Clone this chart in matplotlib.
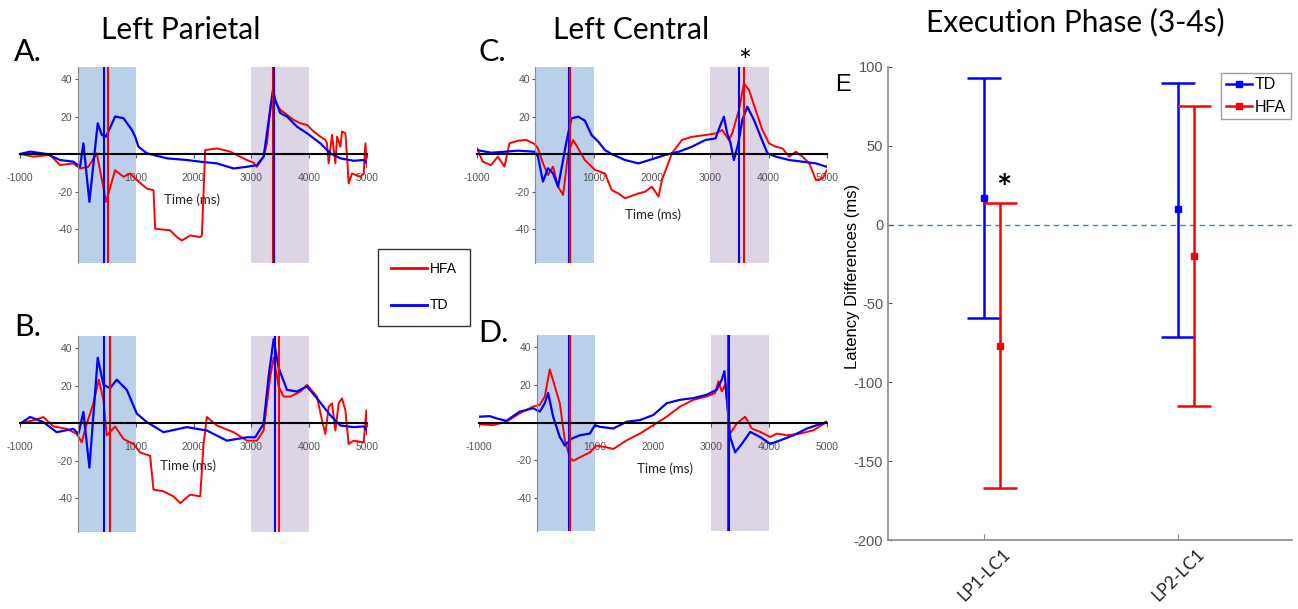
import matplotlib
matplotlib.use('Agg')
import matplotlib.pyplot as plt
from matplotlib.lines import Line2D
from matplotlib.transforms import ScaledTranslation

plt.rcParams['font.family'] = ['Lato', 'DejaVu Sans']
plt.rcParams['axes.unicode_minus'] = False
NARROW = ['Liberation Sans', 'DejaVu Sans']

# ---- ERP traces (time in ms, amplitude) ----
# A. Left Parietal (row 1)
a_hfa_t = [-1000, -769, -481, -308, -77, 39, 183, 327, 489, 644, 789, 904, 1020, 1193, 1308, 1337,
           1597, 1712, 1798, 1943, 2116, 2145, 2202, 2404, 2635, 2808, 2924, 3039, 3097, 3212, 3270,
           3339, 3385, 3501, 3616, 3731, 3847, 3962, 4078, 4193, 4280, 4308, 4337, 4395, 4453, 4482,
           4539, 4568, 4626, 4655, 4683, 4741, 4885, 4943, 4972, 5000]
a_hfa_v = [0, -1.4, -0.5, -5.9, -5.0, -7.7, -6.8, 0.4, -25.5, -8.6, -12.1, -10.4, -13.9, -18.4, -19.3, -39.8,
           -40.7, -44.3, -46.1, -43.4, -44.3, -43.4, 2.1, 3.0, 1.3, -1.4, -3.2, -4.6, -6.8, -1.4, 5.7,
           27.1, 28.9, 23.6, 20.9, 18.2, 16.4, 15.5, 12.0, 9.3, 7.5, 5.7, -5.0, 10.2, -5.0, 9.3,
           3.9, 12.0, 11.1, -1.4, -15.7, -10.4, -12.1, -10.4, 5.7, -6.8]
a_td_t = [-1000, -827, -538, -308, -77, 39, 96, 200, 344, 414, 489, 644, 789, 933, 991, 1048, 1193,
          1539, 1885, 2116, 2404, 2693, 2924, 3097, 3212, 3270, 3374, 3414, 3501, 3616, 3789, 3962,
          4193, 4366, 4539, 4770, 4943, 5000]
a_td_v = [0, 1.3, 0, -3.2, -4.1, -6.8, 5.7, -25.5, 16.4, 10.2, 9.3, 20.0, 19.1, 12.9, 9.3, 3.9, 0.4,
          -2.3, -3.2, -4.1, -5.0, -7.7, -6.8, -5.9, -1.4, 11.1, 34.3, 28.9, 21.8, 20.0, 14.6, 11.1,
          5.7, 0.4, -2.3, -3.6, -3.2, -5.0]

# B. Left Parietal (row 2)
b_hfa_t = [-1000, -769, -596, -423, -192, -19, 67, 154, 269, 362, 443, 500, 644, 789, 962, 1077, 1250,
           1308, 1481, 1654, 1770, 1943, 2116, 2174, 2231, 2404, 2693, 2924, 3097, 3212, 3328, 3385,
           3472, 3558, 3674, 3847, 3962, 4135, 4222, 4280, 4337, 4395, 4453, 4510, 4568, 4626, 4683,
           4770, 4943, 4989, 5000]
b_hfa_v = [0, 1.4, 3.2, -1.8, -3.1, -5.8, -10.3, -0.4, 10.5, 23.1, 12.3, -6.7, -1.8, -8.5, -11.2, -15.7, -17.5,
           -35.5, -36.4, -39.1, -42.7, -38.2, -39.1, -11.2, 3.2, -1.3, -4.9, -9.4, -9.4, -4.0, 24.9, 34.8,
           19.5, 14.1, 14.1, 16.8, 20.4, 14.1, 1.4, -5.8, 8.6, 10.5, -4.0, 10.5, 13.2, 6.8, -11.2,
           -9.4, -10.3, 6.8, -5.8]
b_td_t = [-1000, -827, -596, -365, -77, 10, 96, 200, 344, 443, 558, 673, 846, 1020, 1193, 1481, 1885,
          2231, 2577, 2924, 3068, 3212, 3299, 3385, 3472, 3616, 3789, 3962, 4135, 4366, 4539, 4770,
          4943, 5000]
b_td_v = [-0.4, 3.2, 0.5, -4.9, -3.1, -5.8, 5.9, -23.8, 34.8, 20.4, 18.6, 23.1, 17.7, 5.0, 0.5, -4.9, -2.2,
          -4.0, -9.4, -7.6, -7.6, -0.4, 24.9, 44.7, 29.4, 17.7, 16.8, 19.5, 13.2, 4.1, -1.3, -2.2,
          -1.8, -4.0]

# C. Left Central (row 1)
c_hfa_t = [-1000, -902, -759, -644, -529, -443, -299, -156, -12, 45, 131, 217, 303, 390, 476, 562, 648,
           734, 849, 1021, 1193, 1308, 1423, 1538, 1768, 1882, 1997, 2112, 2170, 2342, 2514, 2686,
           2916, 3088, 3203, 3318, 3375, 3490, 3576, 3663, 3777, 3892, 4007, 4122, 4237, 4352, 4466,
           4581, 4696, 4811, 4926, 5000]
c_hfa_v = [3.0, -4.1, -5.9, -1.4, -6.7, 5.7, 7.1, 7.5, 5.3, 3.0, -5.0, -11.2, -6.7, -17.4, -21.8, 0.4, 7.5,
           3.0, -3.2, -8.5, -10.3, -19.2, -21.0, -23.6, -21.0, -20.1, -17.4, -22.7, -13.9, 0.4, 7.5, 9.2,
           10.1, 11.0, 12.8, 7.5, 11.0, 23.4, 37.7, 34.1, 23.4, 12.8, 5.7, 3.9, 3.0, -1.4, 1.2,
           -1.4, -5.0, -13.9, -13.0, -8.5]
c_td_t = [-1000, -759, -529, -299, -12, 45, 131, 217, 303, 390, 476, 533, 619, 734, 849, 964, 1079,
          1193, 1308, 1538, 1768, 1997, 2227, 2457, 2686, 2916, 3088, 3174, 3232, 3289, 3347, 3404,
          3479, 3548, 3634, 3749, 3863, 3978, 4122, 4352, 4581, 4811, 4983]
c_td_v = [2.1, 0.7, 1.2, 1.8, 1.2, -1.4, -14.7, -7.6, -10.3, -17.4, -3.2, 6.6, 19.0, 19.9, 17.8, 10.1, 6.6,
          2.1, 0, -3.2, -5.0, -2.8, -0.5, 1.2, 3.9, 7.5, 8.3, 15.5, 19.9, 11.0, 5.7, -3.2,
          5.7, 18.1, 25.2, 18.1, 9.2, 0.4, -1.4, -3.2, -4.1, -5.0, -6.7]

# D. Left Central (row 2)
d_hfa_t = [-1000, -758, -528, -298, -67, 48, 134, 221, 307, 393, 480, 566, 624, 739, 912, 1027, 1200,
           1315, 1545, 1775, 2006, 2236, 2466, 2697, 2927, 3071, 3128, 3186, 3244, 3272, 3330, 3445,
           3589, 3704, 3848, 4021, 4136, 4309, 4539, 4769, 5000]
d_hfa_v = [-0.9, -1.4, 0.4, 4.9, 8.5, 9.4, 13.9, 28.3, 19.3, 10.3, -9.5, -18.6, -20.4, -18.6, -15.9, -12.3, -13.2,
           -14.1, -9.5, -5.9, -1.4, 3.1, 8.5, 12.1, 13.9, 15.7, 22.0, 16.6, 20.2, 12.1, -5.9, -0.5,
           3.1, -3.2, -5.0, -7.7, -5.9, -6.8, -5.9, -4.1, 0.4]
d_td_t = [-1000, -816, -701, -528, -298, -67, 48, 134, 192, 278, 393, 480, 595, 739, 912, 998, 1084,
          1315, 1545, 1775, 2006, 2236, 2466, 2697, 2927, 3100, 3186, 3232, 3272, 3330, 3417, 3532,
          3676, 3848, 4021, 4194, 4424, 4654, 5000]
d_td_v = [3.1, 3.4, 2.2, 0.9, 5.8, 7.6, 5.8, 10.3, 15.7, 3.1, -7.7, -12.3, -8.6, -6.8, -5.9, -1.4, -2.3,
          -3.2, 0.4, 1.3, 4.0, 10.3, 12.1, 13.0, 14.8, 17.5, 22.9, 27.4, 13.0, -7.7, -15.9, -11.4,
          -5.0, -7.7, -11.4, -9.5, -6.8, -3.2, 0.4]

# onset latency markers (ms): [TD early, HFA early, TD late, HFA late]
a_onsets = [458, 527, 3387, 3370]
b_onsets = [458, 556, 3410, 3484]
c_onsets = [573, 595, 3497, 3583]
d_onsets = [550, 565, 3315, 3293]

early_win = (0, 1000)
late_win = (3000, 4000)
x_ticks = [-1000, 1000, 2000, 3000, 4000, 5000]
y_ticks = [-40, -20, 20, 40]

# ---- E. latency differences ----
pairs = ['LP1-LC1', 'LP2-LC1']
td_mean = [17, 10]
td_lo = [-59, -71]
td_hi = [93, 90]
hfa_mean = [-77, -20]
hfa_lo = [-167, -115]
hfa_hi = [14, 75]

W, H = 1298, 609
fig = plt.figure(figsize=(W / 100, H / 100), dpi=100)

BLUE = '#0000ff'
RED = '#ff0000'
SHADE1 = '#b9cfea'
SHADE2 = '#ddd5e6'


def px_axes(left, right, top, bottom):
    return fig.add_axes([left / W, 1 - bottom / H, (right - left) / W, (bottom - top) / H])


def erp_panel(ax, hfa_t, hfa_v, td_t, td_v, onsets, tlabel_xy):
    ax.set_xlim(-1000, 5000)
    ax.set_ylim(-58, 46.5)
    ax.axvspan(*early_win, color=SHADE1, lw=0, zorder=0)
    ax.axvspan(*late_win, color=SHADE2, lw=0, zorder=0)
    ax.plot(hfa_t, hfa_v, color=RED, lw=1.4, zorder=2)
    ax.plot(td_t, td_v, color=BLUE, lw=1.6, zorder=2)
    ax.axvline(onsets[0], color=BLUE, lw=1.5, zorder=3)
    ax.axvline(onsets[1], color=RED, lw=1.5, zorder=3)
    ax.axvline(onsets[3], color=RED, lw=1.5, zorder=3)
    ax.axvline(onsets[2], color=BLUE, lw=1.5, zorder=3)
    for s in ['top', 'right']:
        ax.spines[s].set_visible(False)
    ax.spines['left'].set_position(('data', 0))
    ax.spines['left'].set_color('#8a8a8a')
    ax.spines['bottom'].set_position(('data', 0))
    ax.spines['bottom'].set_color('black')
    ax.spines['bottom'].set_linewidth(1.5)
    ax.spines['bottom'].set_zorder(4)
    ax.patch.set_visible(False)
    ax.set_xticks(x_ticks)
    ax.set_yticks(y_ticks)
    ax.tick_params(axis='x', direction='out', length=3, pad=11, colors='#555555', labelsize=7.5)
    ax.tick_params(axis='y', direction='out', length=2, pad=2, colors='#555555', labelsize=7.5)
    for lab in ax.get_xticklabels() + ax.get_yticklabels():
        lab.set_family(NARROW)
    ax.text(tlabel_xy[0], tlabel_xy[1], 'Time (ms)', ha='center', va='center', fontsize=9.5, color='#222222')


ax_a = px_axes(20, 367, 66.8, 262.8)
erp_panel(ax_a, a_hfa_t, a_hfa_v, a_td_t, a_td_v, a_onsets, (1974, -24.5))
ax_b = px_axes(20, 367, 335.8, 531.8)
erp_panel(ax_b, b_hfa_t, b_hfa_v, b_td_t, b_td_v, b_onsets, (1905, -23))
ax_c = px_axes(477, 827, 66.8, 262.8)
erp_panel(ax_c, c_hfa_t, c_hfa_v, c_td_t, c_td_v, c_onsets, (2019, -32.5))
ax_d = px_axes(479, 827, 335.3, 531.3)
erp_panel(ax_d, d_hfa_t, d_hfa_v, d_td_t, d_td_v, d_onsets, (2207, -24.8))

fig.text(181 / W, 1 - 30 / H, 'Left Parietal', ha='center', va='center', fontsize=21.5)
fig.text(631 / W, 1 - 30 / H, 'Left Central', ha='center', va='center', fontsize=21.5)
fig.text(14 / W, 1 - 52 / H, 'A.', ha='left', va='center', fontsize=22)
fig.text(14 / W, 1 - 327 / H, 'B.', ha='left', va='center', fontsize=22)
fig.text(478 / W, 1 - 52 / H, 'C.', ha='left', va='center', fontsize=22)
fig.text(478 / W, 1 - 333 / H, 'D.', ha='left', va='center', fontsize=22)
fig.text(745 / W, 1 - 62 / H, '*', ha='center', va='center', fontsize=22)

# middle legend
mid_handles = [Line2D([0], [0], color=RED, lw=2), Line2D([0], [0], color=BLUE, lw=2)]
leg = fig.legend(mid_handles, ['HFA', 'TD'], loc='upper left', bbox_to_anchor=(378 / W, 1 - 249 / H),
                 frameon=True, fancybox=False, edgecolor='black', handlelength=2.6, labelspacing=1.6,
                 borderpad=0.95, borderaxespad=0, handletextpad=0.2, prop={'family': NARROW, 'size': 10})
leg.get_frame().set_linewidth(1.0)

# ---- panel E ----
ax_e = px_axes(888, 1292, 67, 540)
ax_e.set_xlim(0.505, 2.59)
ax_e.set_ylim(-200, 100)
xs = [1, 2]
off = 0.085
ax_e.axhline(0, ls=(0, (4, 3)), color='#3d85c6', lw=1.0, zorder=1)
ax_e.errorbar(xs, td_mean, yerr=[[m - l for m, l in zip(td_mean, td_lo)], [h - m for m, h in zip(td_mean, td_hi)]],
              fmt='s', color=BLUE, ms=5, capsize=12, elinewidth=1.8, capthick=1.8, zorder=3)
ax_e.errorbar([x + off for x in xs], hfa_mean,
              yerr=[[m - l for m, l in zip(hfa_mean, hfa_lo)], [h - m for m, h in zip(hfa_mean, hfa_hi)]],
              fmt='s', color=RED, ms=5, capsize=12, elinewidth=1.8, capthick=1.8, zorder=3)
for s in ['top', 'right']:
    ax_e.spines[s].set_visible(False)
for s in ['left', 'bottom']:
    ax_e.spines[s].set_color('#8a8a8a')
    ax_e.spines[s].set_linewidth(1.2)
ax_e.set_yticks([100, 50, 0, -50, -100, -150, -200])
ax_e.set_xticks(xs)
ax_e.set_xticklabels(pairs, rotation=45, ha='right', rotation_mode='anchor', fontsize=12.5)
ax_e.tick_params(axis='y', direction='in', length=3, colors='#555555', labelsize=10.5)
ax_e.tick_params(axis='x', direction='in', length=4, colors='#8a8a8a', labelcolor='#222222', pad=4)
shift = ScaledTranslation(18 / 100, 0, fig.dpi_scale_trans)
for lab in ax_e.get_xticklabels():
    lab.set_transform(lab.get_transform() + shift)
for lab in ax_e.get_yticklabels():
    lab.set_family(NARROW)
e_handles = [Line2D([0], [0], color=BLUE, marker='s', ms=4, lw=1.8),
             Line2D([0], [0], color=RED, marker='s', ms=4, lw=1.8)]
leg_e = ax_e.legend(e_handles, ['TD', 'HFA'], loc='upper right', bbox_to_anchor=(1.005, 0.995),
                    fancybox=False, edgecolor='#888888', handlelength=1.6, handletextpad=0.2,
                    borderpad=0.3, labelspacing=0.45, borderaxespad=0.2,
                    prop={'family': NARROW, 'size': 11.5})
ax_e.text(1 + off + 0.02, 22, '*', ha='center', va='center', fontsize=26, fontweight='bold')
fig.text(852 / W, 1 - 276 / H, 'Latency Differences (ms)', rotation=90, ha='center', va='center',
         fontsize=12, family=['Liberation Sans', 'DejaVu Sans'])
fig.text(843 / W, 1 - 85 / H, 'E', ha='center', va='center', fontsize=17,
         family=['Liberation Sans', 'DejaVu Sans'])
fig.text(1075 / W, 1 - 22 / H, 'Execution Phase (3-4s)', ha='center', va='center', fontsize=21.5)

fig.savefig('out.png', dpi=100)
